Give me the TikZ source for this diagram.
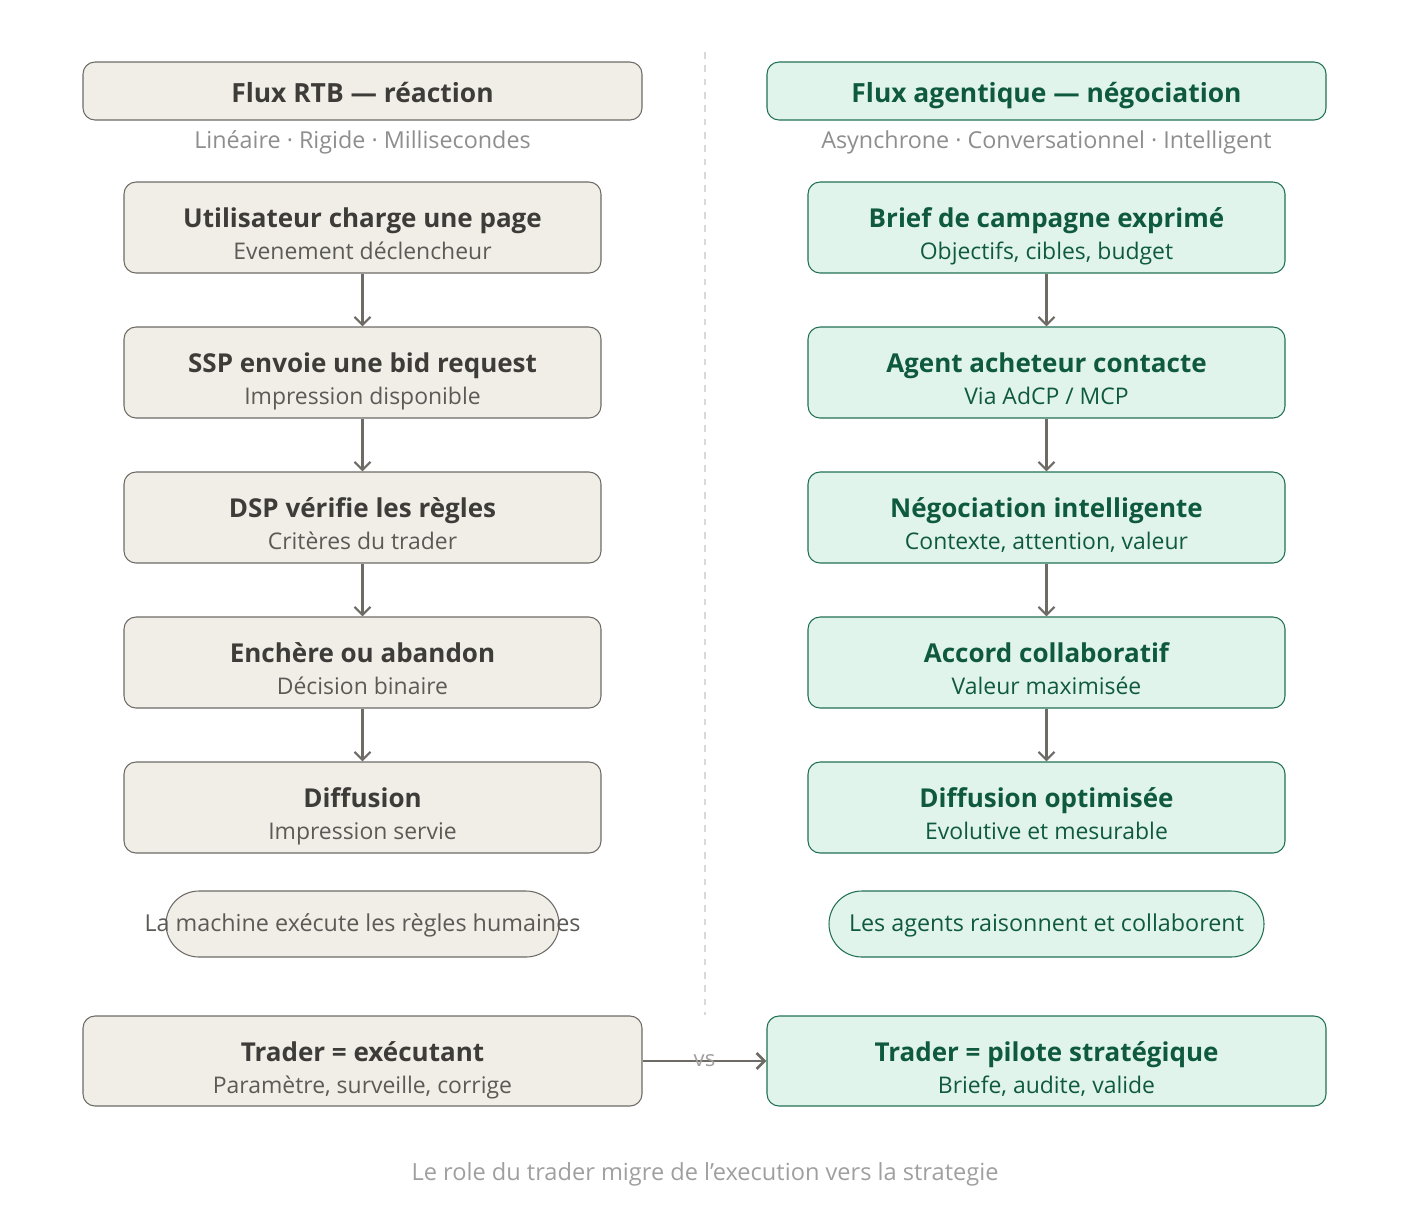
\documentclass[tikz,border=0pt]{standalone}
\usepackage{fontspec}
\setmainfont{Open Sans}
\usetikzlibrary{arrows.meta}
\definecolor{rtbfill}{HTML}{F1EEE8}
\definecolor{rtbline}{HTML}{6E6B66}
\definecolor{rtbtext}{HTML}{3E3C39}
\definecolor{rtbsub}{HTML}{5C5A56}
\definecolor{agfill}{HTML}{E1F4EC}
\definecolor{agline}{HTML}{227155}
\definecolor{agtext}{HTML}{0F5A3F}
\definecolor{softgray}{HTML}{8E8E8E}
\tikzset{>={Straight Barb[length=6pt,width=12pt]}}
\tikzset{box/.style={draw,line width=0.8pt,rounded corners=9pt,align=center,inner sep=0pt}}
\tikzset{rtb/.style={box,draw=rtbline,fill=rtbfill,text=rtbtext}}
\tikzset{ag/.style={box,draw=agline,fill=agfill,text=agtext}}
\tikzset{stepbox/.style={minimum width=357.75pt,minimum height=68.25pt,font=\fontsize{17.2}{24}\selectfont}}
\tikzset{headbox/.style={minimum width=419.25pt,minimum height=43.5pt,text height=20pt,text depth=3.5pt,font=\bfseries\fontsize{19.8}{22}\selectfont}}
\tikzset{pill/.style={minimum height=49.5pt,rounded corners=24.75pt,text height=14.5pt,text depth=4pt,font=\fontsize{17.5}{20}\selectfont}}
\tikzset{arr/.style={->,draw=rtbline,line width=1.6pt}}
\newcommand{\stp}[2]{{\bfseries\fontsize{19.5}{24}\selectfont\rule{0pt}{29pt}#1}\\{\fontsize{17.2}{24}\selectfont #2\rule[-5pt]{0pt}{5pt}}}

\begin{document}
\begin{tikzpicture}[x=0.75pt,y=-0.75pt]
    \useasboundingbox (0,0) rectangle (1410,1208);
    % left column
    \node[rtb,headbox] (Rh) at (362.5,91) {Flux RTB — réaction};
    \node[text=softgray,font=\fontsize{17.5}{20}\selectfont] (Rs) at (362.5,142) {Linéaire · Rigide · Millisecondes};
    \node[rtb,stepbox] (R1) at (362.5,227.5) {\stp{Utilisateur charge une page}{\color{rtbsub}Evenement déclencheur}};
    \node[rtb,stepbox] (R2) at (362.5,372.5) {\stp{SSP envoie une bid request}{\color{rtbsub}Impression disponible}};
    \node[rtb,stepbox] (R3) at (362.5,517.5) {\stp{DSP vérifie les règles}{\color{rtbsub}Critères du trader}};
    \node[rtb,stepbox] (R4) at (362.5,662.5) {\stp{Enchère ou abandon}{\color{rtbsub}Décision binaire}};
    \node[rtb,stepbox] (R5) at (362.5,807.5) {\stp{Diffusion}{\color{rtbsub}Impression servie}};
    \node[rtb,pill,minimum width=294.75pt] (Rp) at (362.5,924) {};
    \node[pill,text=rtbsub] (Rpt) at (Rp.center) {La machine exécute les règles humaines};
    % right column
    \node[ag,headbox] (Gh) at (1046.5,91) {Flux agentique — négociation};
    \node[text=softgray,font=\fontsize{17.5}{20}\selectfont] (Gs) at (1046.5,142) {Asynchrone · Conversationnel · Intelligent};
    \node[ag,stepbox] (G1) at (1046.5,227.5) {\stp{Brief de campagne exprimé}{Objectifs, cibles, budget}};
    \node[ag,stepbox] (G2) at (1046.5,372.5) {\stp{Agent acheteur contacte}{Via AdCP / MCP}};
    \node[ag,stepbox] (G3) at (1046.5,517.5) {\stp{Négociation intelligente}{Contexte, attention, valeur}};
    \node[ag,stepbox] (G4) at (1046.5,662.5) {\stp{Accord collaboratif}{Valeur maximisée}};
    \node[ag,stepbox] (G5) at (1046.5,807.5) {\stp{Diffusion optimisée}{Evolutive et mesurable}};
    \node[ag,pill,minimum width=326.25pt] (Gp) at (1046.5,924) {Les agents raisonnent et collaborent};
    % divider
    \coordinate (D1) at (705,52);
    \coordinate (D2) at (705,1015);
    \draw[draw=black!15,line width=1.4pt,dash pattern=on 5pt off 5pt] (D1) -- (D2);
    % traders
    \node[rtb,stepbox,minimum width=419.25pt,minimum height=67.5pt] (Rt) at (362.5,1061) {\stp{Trader = exécutant}{\color{rtbsub}Paramètre, surveille, corrige}};
    \node[ag,stepbox,minimum width=419.25pt,minimum height=67.5pt] (Gt) at (1046.5,1061) {\stp{Trader = pilote stratégique}{Briefe, audite, valide}};
    \foreach \a/\b in {R1/R2,R2/R3,R3/R4,R4/R5,G1/G2,G2/G3,G3/G4,G4/G5}
      \draw[arr] (\a) -- (\b);
    \draw[arr,line width=2pt] (Rt) -- node[text=softgray!85,font=\fontsize{16.5}{18}\selectfont] {vs} (Gt);
    \node[text=softgray!85,font=\fontsize{17.7}{20}\selectfont] (cap) at (705,1174) {Le role du trader migre de l'execution vers la strategie};
\end{tikzpicture}
\end{document}
